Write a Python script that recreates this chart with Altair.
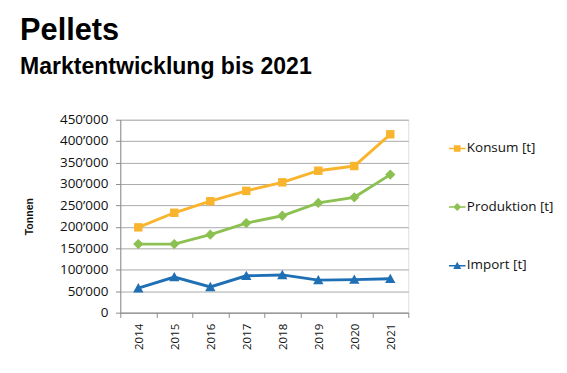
import altair as alt
import pandas as pd

years = ["2014", "2015", "2016", "2017", "2018", "2019", "2020", "2021"]
konsum = [199000, 233000, 260000, 284000, 304000, 331000, 342000, 416000]
produktion = [160000, 160000, 182000, 209000, 226000, 256000, 269000, 322000]
importe = [57000, 83000, 60000, 86000, 88000, 76000, 77000, 79000]

series = ["Konsum [t]", "Produktion [t]", "Import [t]"]
colors = ["#F9B42D", "#8CC152", "#1F6FB5"]
marker_paths = [
    "M-0.45,-0.45H0.45V0.45H-0.45Z",
    "M0,-0.55L0.55,0L0,0.55L-0.55,0Z",
    "M0,-0.55L0.55,0.45L-0.55,0.45Z",
]
legend_paths = [
    "M-1,-0.09H1V0.09H-1Z M-0.4,-0.4H0.4V0.4H-0.4Z",
    "M-1,-0.09H1V0.09H-1Z M0,-0.48L0.48,0L0,0.48L-0.48,0Z",
    "M-1,-0.09H1V0.09H-1Z M0,-0.48L0.48,0.4L-0.48,0.4Z",
]

rows = []
for name, vals in zip(series, [konsum, produktion, importe]):
    for y, v in zip(years, vals):
        rows.append({"Jahr": y, "Wert": v, "Serie": name})
df = pd.DataFrame(rows)

font = "Open Sans"

x = alt.X("Jahr:N", sort=years, title=None,
          axis=alt.Axis(labelAngle=-90, labelFontSize=12, labelFont=font, labelColor="#111",
                        tickBand="extent", ticks=True, tickSize=5, tickColor="#888",
                        domainColor="#888", grid=False, labelPadding=6))
y = alt.Y("Wert:Q", title="Tonnen",
          scale=alt.Scale(domain=[0, 450000]),
          axis=alt.Axis(values=list(range(0, 450001, 50000)),
                        labelExpr="datum.value == 0 ? '0' : floor(datum.value/1000) + '\u2019000'",
                        labelFontSize=14, labelFont=font, labelColor="#111",
                        titleFont="Liberation Sans", titleFontSize=11, titleFontWeight="bold",
                        titleColor="#111", titlePadding=26,
                        gridColor="#a6a6a6", domainColor="#888", tickColor="#888", tickSize=5,
                        labelPadding=8))

base = alt.Chart(df)

lines = base.mark_line(strokeWidth=3).encode(
    x=x, y=y,
    color=alt.Color("Serie:N", scale=alt.Scale(domain=series, range=colors), legend=None),
)

points = base.mark_point(filled=True, opacity=1, size=380).encode(
    x=x, y=y,
    color=alt.Color("Serie:N", scale=alt.Scale(domain=series, range=colors), legend=None),
    shape=alt.Shape("Serie:N", scale=alt.Scale(domain=series, range=marker_paths), legend=None),
)

leg = dict(orient="none", legendX=342, legendY=21,
           symbolOpacity=1, symbolSize=300, symbolStrokeWidth=0,
           labelFont=font, labelFontSize=14, labelColor="#111",
           rowPadding=45, labelOffset=1)

legend_layer = base.mark_point(filled=True, opacity=0, size=10).encode(
    x=x, y=y,
    color=alt.Color("Serie:N", scale=alt.Scale(domain=series, range=colors), title=None,
                    legend=alt.Legend(**leg)),
    shape=alt.Shape("Serie:N", scale=alt.Scale(domain=series, range=legend_paths), title=None,
                    legend=alt.Legend(**leg)),
)

chart = alt.layer(lines, points, legend_layer).resolve_scale(
    color="independent", shape="independent"
).properties(
    width=300, height=201,
    title=alt.TitleParams(
        "Pellets", subtitle="Marktentwicklung bis 2021",
        anchor="start", frame="bounds", font="Liberation Sans", fontSize=32, fontWeight="bold",
        color="#000", subtitleFont="Liberation Sans", subtitleFontSize=24,
        subtitleFontWeight="bold", subtitleColor="#000", subtitlePadding=9, offset=35, dx=-4,
    ),
    padding={"left": 12, "top": 0, "right": 5, "bottom": 5},
).configure_view(stroke=None).configure(background="white")

chart.save("out.html", embed_options={"renderer": "svg", "actions": False})
